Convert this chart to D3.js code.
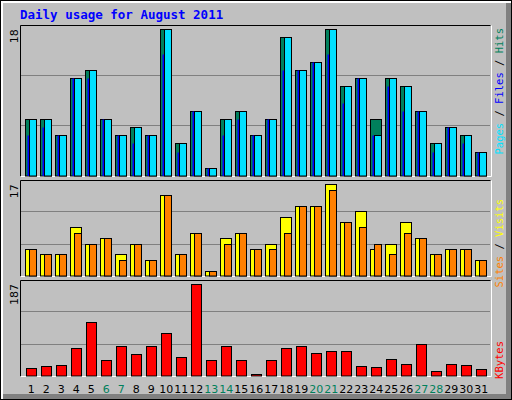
<!DOCTYPE html><html><head><meta charset="utf-8">
<script src="https://cdn.jsdelivr.net/npm/d3@7"></script>
<style>body{margin:0}svg{display:block}</style></head><body>
<script>
const days=d3.range(1,32);
const weekends=[6,7,13,14,20,21,27,28];
const hits=[7,7,5,12,13,7,5,6,5,18,4,8,1,7,8,5,7,17,13,14,18,11,12,7,12,11,8,4,6,5,3];
const files=[5,6,5,12,12,7,5,4,5,15,3,8,1,5,7,5,7,13,13,14,15,9,12,5,11,8,8,3,6,4,3];
const pages=[7,7,5,12,13,7,5,6,5,18,4,8,1,7,8,5,7,17,13,14,18,11,12,5,12,11,8,4,6,5,3];
const visits=[5,4,4,9,6,7,4,6,3,15,4,8,1,7,8,5,6,11,13,13,17,10,12,5,6,10,7,4,5,5,3];
const sites=[5,4,4,8,6,7,3,6,3,15,4,8,1,6,8,5,5,8,13,13,16,10,9,6,4,8,7,4,5,5,3];
const kbytes=[17,21,23,56,109,33,60,44,60,88,39,187,33,60,33,5,33,56,60,46,50,50,21,19,35,25,66,11,25,23,15];
const maxLabels=["18","17","187"];

const svg=d3.select("body").append("svg").attr("width",512).attr("height",400);
svg.append("rect").attr("width",512).attr("height",400).attr("fill","#000");
svg.append("rect").attr("x",1).attr("y",1).attr("width",510).attr("height",398).attr("fill","#fff");
svg.append("rect").attr("x",3).attr("y",3).attr("width",508).attr("height",396).attr("fill","#808080");
svg.append("rect").attr("x",3).attr("y",3).attr("width",503).attr("height",391).attr("fill","#c0c0c0");

svg.append("text").attr("x",20).attr("y",19).attr("fill","#0000ff")
 .attr("font-family","DejaVu Sans Mono, monospace").attr("font-weight","bold").attr("font-size",12.5)
 .text("Daily usage for August 2011");

const x=d3.scaleLinear().domain([1,32]).range([25.3,490.3]);
const panels=[{t:25,b:177,top:29.3,max:18},{t:180,b:277,top:184.3,max:17},{t:280,b:377,top:284,max:187}];
panels.forEach((p,i)=>{
  svg.append("rect").attr("x",20.5).attr("y",p.t+0.5).attr("width",470).attr("height",p.b-p.t-1).attr("fill","#c0c0c0").attr("stroke","none");
  svg.append("path").attr("d",`M20.5,${p.b-0.5}V${p.t+0.5}H490.5`).attr("stroke","#000").attr("fill","none");
  svg.append("path").attr("d",`M20.5,${p.b-0.5}H491.5V${p.t+0.5}`).attr("stroke","#fff").attr("fill","none");
  const h=p.b-p.t;
  [1/3,2/3].forEach(f=>svg.append("line").attr("x1",21).attr("x2",490).attr("y1",Math.round(p.b-1-h*f)+0.5).attr("y2",Math.round(p.b-1-h*f)+0.5).attr("stroke","#808080"));
  p.y=d3.scaleLinear().domain([0,p.max]).range([p.b-1,p.top]);
  svg.append("text").attr("transform",`translate(18,${p.top}) rotate(-90)`).attr("text-anchor","end")
   .attr("font-family","DejaVu Sans, sans-serif").attr("font-size",11).text(maxLabels[i]);
});
function bars(data,y,dx,w,col){
  svg.append("g").selectAll("rect").data(data).join("rect")
   .attr("x",(d,i)=>Math.round(x(days[i])+dx)+0.5).attr("width",w)
   .attr("y",d=>Math.round(y(d))+0.5).attr("height",d=>Math.max(0,y(0)-Math.round(y(d))-0.5))
   .attr("fill",col).attr("stroke",w>2?"#000":"none").attr("stroke-width",1);
}
bars(hits,panels[0].y,0,11,"#00805c");
bars(files,panels[0].y,2,2,"#0000ff");
bars(pages,panels[0].y,4,7,"#00e0ff");
bars(visits,panels[1].y,0,11,"#ffff00");
bars(sites,panels[1].y,4,7,"#ff8000");
bars(kbytes,panels[2].y,1,10,"#ff0000");
// fix blue files bar outline: draw thin dark edge
svg.append("g").selectAll("text").data(days).join("text")
 .attr("x",d=>x(d)+6).attr("y",393).attr("text-anchor","middle")
 .attr("font-family","DejaVu Sans, sans-serif").attr("font-size",11)
 .attr("fill",d=>weekends.includes(d)?"#00805c":"#000").text(d=>d);
function rlabel(yEnd,parts){
  const t=svg.append("text").attr("transform",`translate(503,${yEnd}) rotate(-90)`).attr("text-anchor","end")
   .attr("font-family","DejaVu Sans Mono, monospace").attr("font-size",10.5);
  parts.forEach(([s,c])=>t.append("tspan").attr("fill",c).text(s));
}
rlabel(28,[["Pages","#00e0ff"],[" / ","#000"],["Files","#0000ff"],[" / ","#000"],["Hits","#00805c"]]);
rlabel(199,[["Sites","#ff8000"],[" / ","#000"],["Visits","#ffff00"]]);
rlabel(341,[["KBytes","#ff0000"]]);
</script></body></html>
